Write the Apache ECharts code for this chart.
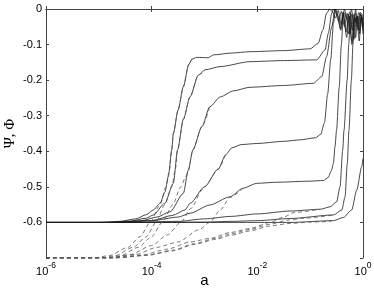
<!DOCTYPE html>
<html><head><meta charset="utf-8">
<script src="https://cdn.jsdelivr.net/npm/echarts@6/dist/echarts.min.js"></script>
<style>html,body{margin:0;padding:0;background:#fff}#c{width:374px;height:292px}</style>
</head><body><div id="c"></div>
<script>
// x values are stored as log10(a); y values are Psi/Phi
const xTickLabels = ['10^-6','10^-4','10^-2','10^0'];
const yTicks = [0,-0.1,-0.2,-0.3,-0.4,-0.5,-0.6,-0.7];

// Solid curves (Phi)
const s1LogA = [-6,-5,-4.6,-4.3,-4.1,-3.97,-3.84,-3.75,-3.685,-3.62,-3.59,-3.5,-3.4,-3.3,-3.24,-3.15,-2.93,-2.83,-2.5,-2.14,-1.5,-1.0,-0.85,-0.76,-0.69,-0.63,-0.58,-0.52,-0.47,-0.41,-0.36,-0.3,-0.25,-0.2,-0.15,-0.1,-0.05,0];
const s1Val  = [-0.6,-0.6,-0.597,-0.59,-0.578,-0.565,-0.546,-0.515,-0.471,-0.396,-0.35,-0.284,-0.218,-0.157,-0.141,-0.136,-0.137,-0.129,-0.124,-0.12,-0.117,-0.112,-0.097,-0.059,-0.012,0,-0.008,-0.025,-0.004,-0.045,-0.01,-0.03,-0.008,-0.06,-0.012,-0.035,-0.01,-0.02];
const s2LogA = [-6,-4.8,-4.4,-4.1,-3.97,-3.75,-3.59,-3.51,-3.4,-3.274,-3.117,-2.99,-2.706,-2.139,-1.5,-0.876,-0.719,-0.656,-0.592,-0.56,-0.52,-0.46,-0.41,-0.35,-0.3,-0.24,-0.19,-0.13,-0.08,0];
const s2Val  = [-0.6,-0.6,-0.596,-0.588,-0.579,-0.546,-0.49,-0.396,-0.31,-0.247,-0.186,-0.171,-0.162,-0.148,-0.145,-0.143,-0.115,-0.068,-0.012,0,-0.01,-0.035,-0.006,-0.05,-0.012,-0.07,-0.015,-0.04,-0.01,-0.03];
const s3LogA = [-6,-4.6,-4.2,-3.9,-3.65,-3.4,-3.306,-3.22,-3.05,-2.9,-2.7,-2.45,-2.14,-1.5,-0.94,-0.78,-0.69,-0.59,-0.53,-0.49,-0.43,-0.38,-0.32,-0.27,-0.21,-0.16,-0.1,-0.05,0];
const s3Val  = [-0.6,-0.6,-0.595,-0.585,-0.57,-0.518,-0.453,-0.396,-0.331,-0.275,-0.247,-0.23,-0.22,-0.215,-0.209,-0.19,-0.134,-0.05,0,-0.015,-0.055,-0.01,-0.065,-0.015,-0.09,-0.02,-0.05,-0.015,-0.04];
const s4LogA = [-6,-4.5,-4.0,-3.6,-3.37,-3.27,-3.0,-2.74,-2.6,-2.48,-2.3,-2.0,-1.5,-1.2,-0.9,-0.8,-0.73,-0.67,-0.61,-0.56,-0.52,-0.47,-0.42,-0.37,-0.31,-0.26,-0.21,-0.15,-0.09,-0.04,0];
const s4Val  = [-0.6,-0.6,-0.595,-0.58,-0.565,-0.546,-0.5,-0.45,-0.41,-0.39,-0.381,-0.378,-0.372,-0.368,-0.362,-0.352,-0.32,-0.24,-0.14,-0.04,0,-0.02,-0.06,-0.012,-0.08,-0.02,-0.1,-0.025,-0.06,-0.015,-0.05];
const s5LogA = [-6,-4.8,-4.0,-3.5,-3.27,-2.9,-2.52,-2.27,-2.01,-1.63,-1.0,-0.75,-0.66,-0.6,-0.56,-0.53,-0.5,-0.45,-0.41,-0.37,-0.35,-0.31,-0.27,-0.22,-0.17,-0.12,-0.07,-0.03,0];
const s5Val  = [-0.6,-0.6,-0.595,-0.585,-0.574,-0.551,-0.528,-0.504,-0.49,-0.487,-0.484,-0.482,-0.474,-0.455,-0.434,-0.387,-0.34,-0.22,-0.1,-0.01,0,-0.025,-0.07,-0.015,-0.085,-0.02,-0.06,-0.02,-0.07];
const s6LogA = [-6,-4.5,-3.5,-3.0,-2.5,-2.0,-1.38,-0.81,-0.62,-0.5,-0.435,-0.384,-0.359,-0.3,-0.27,-0.24,-0.22,-0.18,-0.14,-0.1,-0.06,-0.02,0];
const s6Val  = [-0.6,-0.6,-0.597,-0.59,-0.583,-0.576,-0.568,-0.563,-0.556,-0.542,-0.5,-0.396,-0.34,-0.2,-0.1,-0.02,0,-0.03,-0.08,-0.02,-0.07,-0.02,-0.05];
const s7LogA = [-6,-4,-3,-2.5,-2.0,-1.38,-0.56,-0.4,-0.34,-0.297,-0.265,-0.22,-0.19,-0.16,-0.14,-0.11,-0.07,-0.04,0];
const s7Val  = [-0.6,-0.6,-0.599,-0.597,-0.595,-0.589,-0.579,-0.565,-0.528,-0.434,-0.34,-0.2,-0.1,-0.02,0,-0.035,-0.09,-0.025,-0.06];
const s8LogA = [-6,-2,-1.38,-0.56,-0.37,-0.214,-0.119,-0.024,0];
const s8Val  = [-0.6,-0.6,-0.6,-0.595,-0.586,-0.565,-0.509,-0.443,-0.42];

// Dashed curves (Psi)
const d1LogA = [-6,-5.1,-4.8,-4.45,-4.22,-4.03,-3.84,-3.73,-3.66,-3.62,-3.59,-3.5,-3.4,-3.3,-3.24];
const d1Val  = [-0.7,-0.7,-0.693,-0.67,-0.64,-0.6,-0.55,-0.5,-0.45,-0.396,-0.35,-0.284,-0.218,-0.157,-0.141];
const d2LogA = [-6,-5.0,-4.7,-4.35,-4.1,-3.92,-3.75,-3.62,-3.55,-3.51,-3.4,-3.274,-3.117,-2.99];
const d2Val  = [-0.7,-0.7,-0.694,-0.67,-0.64,-0.6,-0.55,-0.5,-0.45,-0.396,-0.31,-0.247,-0.186,-0.171];
const d3LogA = [-6,-4.9,-4.6,-4.25,-4.0,-3.8,-3.6,-3.45,-3.35,-3.306,-3.22,-3.05,-2.9];
const d3Val  = [-0.7,-0.7,-0.694,-0.67,-0.64,-0.6,-0.55,-0.5,-0.47,-0.453,-0.396,-0.331,-0.275];
const d4LogA = [-6,-4.8,-4.4,-4.0,-3.7,-3.45,-3.25,-3.05,-3.0,-2.74,-2.6];
const d4Val  = [-0.7,-0.7,-0.69,-0.665,-0.635,-0.6,-0.56,-0.51,-0.5,-0.45,-0.41];
const d5LogA = [-6,-4.8,-4.3,-3.9,-3.5,-3.1,-2.9,-2.7,-2.52,-2.27];
const d5Val  = [-0.7,-0.7,-0.69,-0.67,-0.655,-0.62,-0.6,-0.565,-0.53,-0.504];
const d6LogA = [-6,-4.8,-4.2,-3.7,-3.27,-2.9,-2.5,-2.14,-1.76,-1.5,-1.3,-0.81];
const d6Val  = [-0.7,-0.7,-0.692,-0.675,-0.655,-0.645,-0.628,-0.617,-0.6,-0.585,-0.572,-0.563];
const d7LogA = [-6,-4.7,-4.1,-3.6,-3.2,-2.8,-2.5,-2.14,-1.76,-1.4,-1.1,-0.56];
const d7Val  = [-0.7,-0.7,-0.692,-0.678,-0.66,-0.645,-0.632,-0.62,-0.605,-0.593,-0.588,-0.579];
const d8LogA = [-6,-4.7,-4.1,-3.6,-3.2,-2.8,-2.5,-2.14,-1.76,-1.4,-1.0,-0.6];
const d8Val  = [-0.7,-0.7,-0.693,-0.68,-0.662,-0.648,-0.636,-0.624,-0.61,-0.603,-0.599,-0.597];

const solid = [[s1LogA,s1Val],[s2LogA,s2Val],[s3LogA,s3Val],[s4LogA,s4Val],[s5LogA,s5Val],[s6LogA,s6Val],[s7LogA,s7Val],[s8LogA,s8Val]];
const dashed = [[d1LogA,d1Val],[d2LogA,d2Val],[d3LogA,d3Val],[d4LogA,d4Val],[d5LogA,d5Val],[d6LogA,d6Val],[d7LogA,d7Val],[d8LogA,d8Val]];

const toData = (lx, v) => lx.map((e, i) => [Math.pow(10, e), v[i]]);
const series = [];
solid.forEach(([lx, v], i) => series.push({
  type: 'line', name: 'Phi' + (i+1), data: toData(lx, v), showSymbol: false,
  smooth: 0.25, smoothMonotone: 'x', xAxisIndex: 0, yAxisIndex: 0,
  lineStyle: { color: '#1a1a1a', width: 0.8 }, silent: true
}));
dashed.forEach(([lx, v], i) => series.push({
  type: 'line', name: 'Psi' + (i+1), data: toData(lx, v), showSymbol: false,
  smooth: 0.25, smoothMonotone: 'x', xAxisIndex: 0, yAxisIndex: 0,
  lineStyle: { color: '#555', width: 0.8, type: [4, 3] }, silent: true
}));

const font = 'Liberation Sans, Arial, sans-serif';
const chart = echarts.init(document.getElementById('c'), null, { renderer: 'canvas' });
chart.setOption({
  animation: false,
  grid: { left: 46, right: 11, top: 9, bottom: 34, containLabel: false, outerBoundsMode: 'none' },
  xAxis: [{
    type: 'log', logBase: 10, min: 1e-6, max: 1, interval: 2, position: 'bottom',
    name: 'a', nameLocation: 'middle', nameGap: 15, nameMoveOverlap: false,
    nameTextStyle: { fontFamily: font, fontSize: 15, color: '#000', verticalAlign: 'top' },
    axisLine: { lineStyle: { color: '#444', width: 1 } },
    axisTick: { inside: true, length: 3, lineStyle: { color: '#444' } },
    minorTick: { show: false }, splitLine: { show: false },
    axisLabel: {
      margin: 3,
      formatter: function (v) {
        const e = Math.round(Math.log10(v));
        return '{b|10}{s|' + e + '}';
      },
      rich: {
        b: { fontFamily: font, fontSize: 11, color: '#000', lineHeight: 16, verticalAlign: 'bottom' },
        s: { fontFamily: font, fontSize: 8.5, color: '#000', lineHeight: 10, verticalAlign: 'top' }
      }
    }
  }, {
    type: 'log', logBase: 10, min: 1e-6, max: 1, interval: 2, position: 'top',
    axisLine: { lineStyle: { color: '#444', width: 1 } },
    axisTick: { inside: true, length: 3, lineStyle: { color: '#444' } },
    axisLabel: { show: false }, splitLine: { show: false }
  }],
  yAxis: [{
    type: 'value', min: -0.7, max: 0, interval: 0.1, position: 'left',
    name: 'Ψ, Φ', nameLocation: 'middle', nameGap: 28, nameRotate: 90, nameMoveOverlap: false,
    nameTextStyle: { fontFamily: 'Liberation Serif, DejaVu Serif, serif', fontSize: 15, color: '#000' },
    axisLine: { show: true, lineStyle: { color: '#444', width: 1 } },
    axisTick: { show: true, inside: true, length: 3, lineStyle: { color: '#444' } },
    splitLine: { show: false },
    axisLabel: {
      margin: 4, fontFamily: font, fontSize: 11, color: '#000',
      formatter: function (v) {
        if (Math.abs(v + 0.7) < 1e-9) return '';
        if (Math.abs(v) < 1e-9) return '0';
        return '-' + Math.abs(v).toFixed(1);
      }
    }
  }, {
    type: 'value', min: -0.7, max: 0, interval: 0.1, position: 'right',
    axisLine: { show: true, lineStyle: { color: '#444', width: 1 } },
    axisTick: { show: true, inside: true, length: 3, lineStyle: { color: '#444' } },
    axisLabel: { show: false }, splitLine: { show: false }
  }],
  series: series
});
</script></body></html>
